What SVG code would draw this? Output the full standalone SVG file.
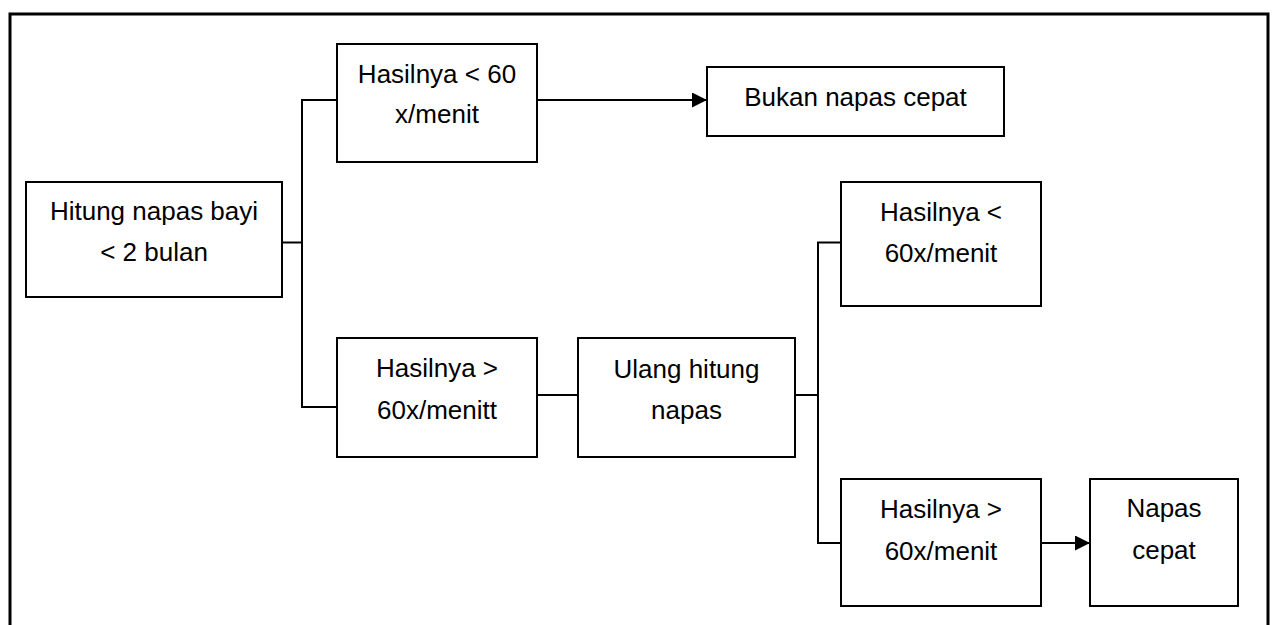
<svg xmlns="http://www.w3.org/2000/svg" width="1275" height="625" viewBox="0 0 1275 625">
<defs>
<style>
.box{fill:#fff;stroke:#000;stroke-width:2}
.t{font-family:"Liberation Sans",Arial,sans-serif;font-size:26px;fill:#000;text-anchor:middle}
.c{fill:none;stroke:#000;stroke-width:2}
.frame{fill:none;stroke:#000;stroke-width:3}
</style>
<marker id="ah" markerWidth="16" markerHeight="15" refX="15" refY="7.5" orient="auto" markerUnits="userSpaceOnUse">
<path d="M0,0 L15,7.5 L0,15 Z" fill="#000"/>
</marker>
</defs>
<rect width="1275" height="625" fill="#fff"/>
<path class="frame" d="M10,630 V14 H1268 V630"/>
<g id="connectors">
<path class="c" d="M282,242.5 H302"/>
<path class="c" d="M337,100 H302 V407 H337"/>
<path class="c" d="M537,100 H707" marker-end="url(#ah)"/>
<path class="c" d="M537,395 H578"/>
<path class="c" d="M795,395 H818"/>
<path class="c" d="M841,242.5 H818 V543 H841"/>
<path class="c" d="M1041,543 H1090" marker-end="url(#ah)"/>
</g>
<g id="n1"><rect class="box" x="26" y="182" width="256" height="115"/>
<text class="t" x="154" y="220">Hitung napas bayi</text><text class="t" x="154" y="261">&lt; 2 bulan</text></g>
<g id="n2"><rect class="box" x="337" y="44" width="200" height="118"/>
<text class="t" x="437" y="83">Hasilnya &lt; 60</text><text class="t" x="437" y="123">x/menit</text></g>
<g id="n3"><rect class="box" x="707" y="67" width="297" height="69"/>
<text class="t" x="855.5" y="106">Bukan napas cepat</text></g>
<g id="n4"><rect class="box" x="337" y="338" width="200" height="119"/>
<text class="t" x="437" y="377">Hasilnya &gt;</text><text class="t" x="437" y="419">60x/menitt</text></g>
<g id="n5"><rect class="box" x="578" y="338" width="217" height="119"/>
<text class="t" x="686.5" y="378">Ulang hitung</text><text class="t" x="686.5" y="419">napas</text></g>
<g id="n6"><rect class="box" x="841" y="182" width="200" height="124"/>
<text class="t" x="941" y="221">Hasilnya &lt;</text><text class="t" x="941" y="262">60x/menit</text></g>
<g id="n7"><rect class="box" x="841" y="479" width="200" height="127"/>
<text class="t" x="941" y="518">Hasilnya &gt;</text><text class="t" x="941" y="560">60x/menit</text></g>
<g id="n8"><rect class="box" x="1090" y="479" width="148" height="127"/>
<text class="t" x="1164" y="517">Napas</text><text class="t" x="1164" y="559">cepat</text></g>
</svg>
